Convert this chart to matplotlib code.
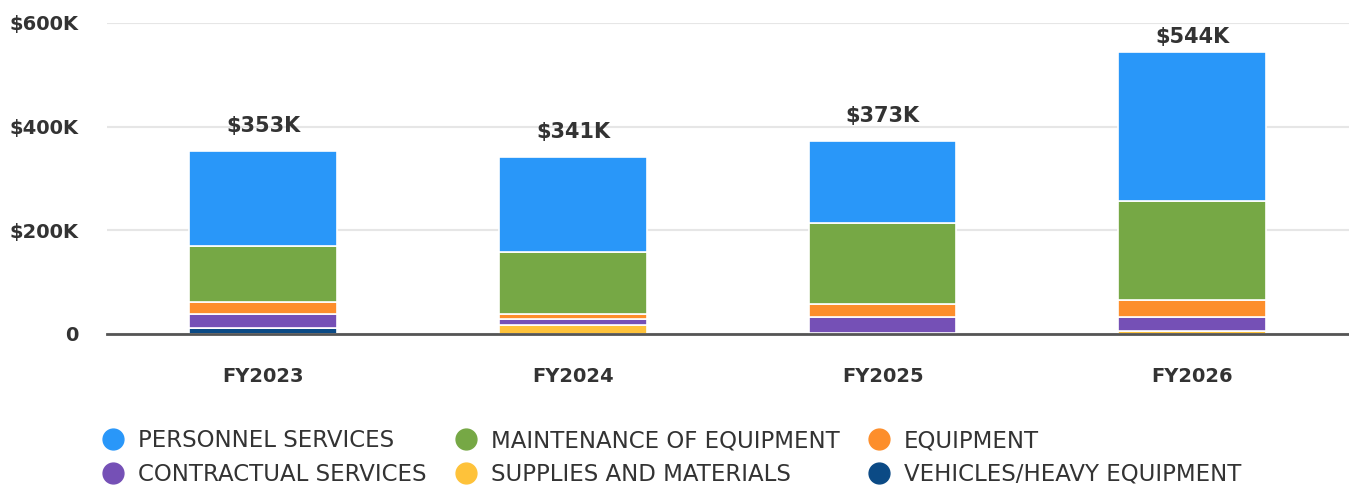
import numpy as np
import matplotlib.pyplot as plt

# values in $K
years = ["FY2023", "FY2024", "FY2025", "FY2026"]
vehicles = [11, 0, 1, 0]
supplies = [1, 17, 1, 6]
contractual = [27, 11, 31, 26]
equipment = [23, 10, 25, 33]
maintenance = [108, 120, 155, 192]
personnel = [183, 183, 160, 287]
totals = [353, 341, 373, 544]

series = [
    ("VEHICLES/HEAVY EQUIPMENT", vehicles, "#0b4a85"),
    ("SUPPLIES AND MATERIALS", supplies, "#fec23a"),
    ("CONTRACTUAL SERVICES", contractual, "#7550b6"),
    ("EQUIPMENT", equipment, "#fd8e2b"),
    ("MAINTENANCE OF EQUIPMENT", maintenance, "#76a845"),
    ("PERSONNEL SERVICES", personnel, "#2997f9"),
]
# legend fills column by column, so this gives rows P/M/E and C/S/V
legend_order = ["PERSONNEL SERVICES", "CONTRACTUAL SERVICES",
                "MAINTENANCE OF EQUIPMENT", "SUPPLIES AND MATERIALS",
                "EQUIPMENT", "VEHICLES/HEAVY EQUIPMENT"]

plt.rcParams['font.family'] = ['DejaVu Sans']

fig = plt.figure(figsize=(13.49, 4.86), dpi=100)
ax = fig.add_axes([0.079, 0.313, 0.921, 0.64])

x = np.arange(len(years))
bottom = np.zeros(len(years))
colors = {}
for name, vals, col in series:
    vals = np.array(vals, dtype=float)
    ax.bar(x, vals, 0.477, bottom=bottom, color=col, edgecolor="white",
           linewidth=1.2, zorder=3)
    colors[name] = col
    bottom += vals

# total labels sit above the bars, kept inside the plot area at the top
for xi, t in zip(x, totals):
    ax.text(xi, min(t + 48, 573), f"${t}K", ha="center", va="center",
            fontsize=15, fontweight="bold", color="#333333")

ax.set_xlim(-0.506, 3.506)
ax.set_ylim(0, 600)
ax.set_yticks([0, 200, 400, 600])
ax.set_yticklabels(["0", "$200K", "$400K", "$600K"])
ax.set_xticks(x)
ax.set_xticklabels(years)
ax.tick_params(axis="both", length=0, labelsize=14, labelcolor="#333333")
ax.tick_params(axis="x", pad=24)
ax.tick_params(axis="y", pad=20)
for lab in ax.get_xticklabels() + ax.get_yticklabels():
    lab.set_fontweight("bold")
ax.grid(axis="y", color="#e6e6e6", linewidth=1.5, zorder=0)
for s in ["top", "right", "left"]:
    ax.spines[s].set_visible(False)
ax.spines["bottom"].set_color("#555555")
ax.spines["bottom"].set_linewidth(2)
ax.spines["bottom"].set_zorder(4)

leg_handles = [plt.Line2D([], [], marker="o", linestyle="", markersize=15,
                          color=colors[n]) for n in legend_order]
fig.legend(leg_handles, legend_order, loc="upper left", bbox_to_anchor=(0.0585, 0.159),
           ncol=3, frameon=False, fontsize=16.5, labelcolor="#333333",
           handletextpad=0.5, columnspacing=1.1, labelspacing=0.45, handlelength=1.2)

fig.savefig("out.png", dpi=100)
